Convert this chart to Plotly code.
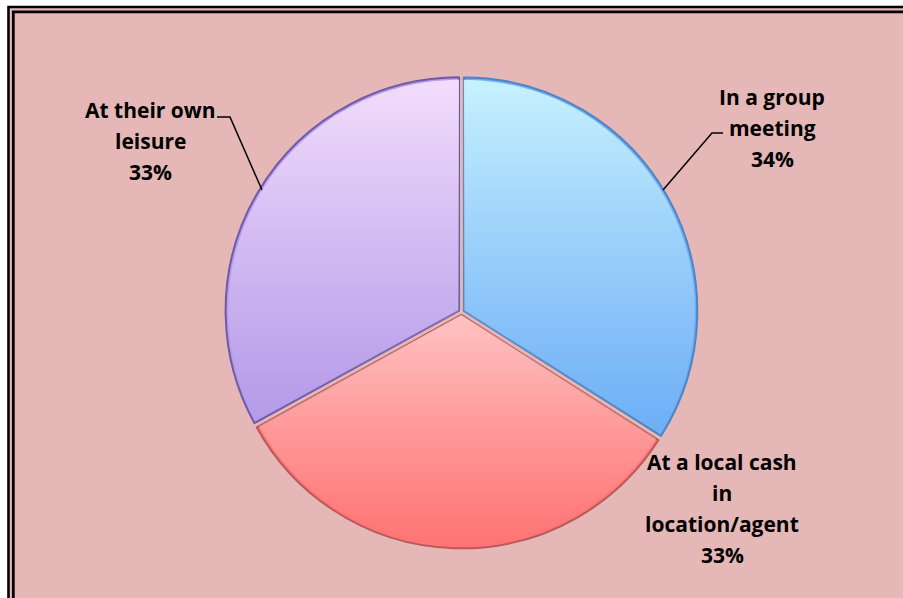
import math
import plotly.graph_objects as go

# Where respondents would prefer to do it
categories = ["In a group meeting", "At a local cash in location/agent", "At their own leisure"]
label_lines = [["In a group", "meeting"], ["At a local cash", "in", "location/agent"], ["At their own", "leisure"]]
values = [34, 33, 33]

# base (lower) colour of each slice and the lighter tint it fades to at its top
slice_colors = ["#6EAFF7", "#FF7474", "#B59BE9"]
tint_colors = [(212, 250, 255), (255, 206, 206), (250, 230, 255)]
rim_colors = ["#4F84C4", "#B85A5A", "#6F5AA8"]

W, H = 903, 598
BG = "#E5B7B7"
DOM_X = [0.2, 0.822]
DOM_Y = [0.083, 0.873]
PULL = 0.012


def px(x):
    return x / W


def py(y):
    return 1 - y / H


fig = go.Figure()

fig.add_trace(go.Pie(
    labels=categories,
    values=values,
    sort=False,
    direction="clockwise",
    rotation=0,
    pull=[PULL] * len(values),
    marker=dict(colors=slice_colors, line=dict(color=rim_colors, width=2)),
    textinfo="none",
    hoverinfo="label+percent",
    showlegend=False,
    domain=dict(x=DOM_X, y=DOM_Y),
))

shapes = []
# frame: pink panel with a double black rule along the top and left
shapes.append(dict(type="rect", xref="paper", yref="paper",
                   x0=px(7), x1=1, y0=py(7), y1=0,
                   fillcolor=BG, line=dict(width=0), layer="below"))
for off, wdt in ((8.5, 2.5), (13.3, 2.8)):
    top = off - 1.5
    shapes.append(dict(type="path", xref="paper", yref="paper",
                       path=f"M {px(off)},0 L {px(off)},{py(top)} L 1,{py(top)}",
                       line=dict(color="black", width=wdt), layer="below"))


# vertical sheen on each slice: translucent horizontal strips clipped to the slice
def clip_y(poly, yc, keep_above):
    out = []
    n = len(poly)
    for i in range(n):
        a, b = poly[i], poly[(i + 1) % n]
        ina = a[1] >= yc if keep_above else a[1] <= yc
        inb = b[1] >= yc if keep_above else b[1] <= yc
        if ina:
            out.append(a)
        if ina != inb:
            t = (yc - a[1]) / (b[1] - a[1])
            out.append((a[0] + t * (b[0] - a[0]), yc))
    return out


cx = W * (DOM_X[0] + DOM_X[1]) / 2
cy = H * (1 - (DOM_Y[0] + DOM_Y[1]) / 2)
radius = min(W * (DOM_X[1] - DOM_X[0]), H * (DOM_Y[1] - DOM_Y[0])) / (2 + 2 * PULL)

total = sum(values)
start = 0.0
for v, tint in zip(values, tint_colors):
    a0 = start
    a1 = start + 2 * math.pi * v / total
    start = a1
    mid = (a0 + a1) / 2
    ox = cx + PULL * radius * math.sin(mid)
    oy = cy - PULL * radius * math.cos(mid)
    rr = radius - 2.5
    steps = max(8, int((a1 - a0) / math.radians(1)))
    poly = [(ox, oy)] + [(ox + rr * math.sin(a0 + (a1 - a0) * k / steps),
                          oy - rr * math.cos(a0 + (a1 - a0) * k / steps)) for k in range(steps + 1)]
    ys = [p[1] for p in poly]
    ytop, ybot = math.floor(min(ys)), math.ceil(max(ys))
    band = 3
    y = ytop
    while y < ybot:
        y2 = min(y + band, ybot)
        piece = clip_y(clip_y(poly, y, True), y2, False)
        if len(piece) >= 3:
            t = ((y + y2) / 2 - ytop) / (ybot - ytop)
            alpha = 0.88 * (1 - t) ** 1.1
            path = "M " + " L ".join(f"{px(p[0])},{py(p[1])}" for p in piece) + " Z"
            shapes.append(dict(type="path", xref="paper", yref="paper", path=path,
                               fillcolor=f"rgba({tint[0]},{tint[1]},{tint[2]},{alpha:.3f})",
                               line=dict(width=0)))
        y = y2

# leader lines
shapes.append(dict(type="path", xref="paper", yref="paper",
                   path=f"M {px(663)},{py(190)} L {px(712)},{py(133)} L {px(723)},{py(133)}",
                   line=dict(color="black", width=1.5)))
shapes.append(dict(type="path", xref="paper", yref="paper",
                   path=f"M {px(217)},{py(117)} L {px(230)},{py(117)} L {px(262)},{py(190)}",
                   line=dict(color="black", width=1.5)))

label_pos = [(772, 97), (722, 462), (150, 110)]
line_gap = 31

annotations = []
for lines, v, (lx, ly) in zip(label_lines, values, label_pos):
    texts = lines + [f"{round(100 * v / total)}%"]
    for i, t in enumerate(texts):
        annotations.append(dict(
            x=px(lx), y=py(ly + i * line_gap), xref="paper", yref="paper",
            text=f"<b>{t}</b>", showarrow=False, xanchor="center", yanchor="middle",
            font=dict(family="Open Sans", size=21, color="black"),
        ))

fig.update_layout(
    width=W, height=H,
    margin=dict(l=0, r=0, t=0, b=0),
    paper_bgcolor="white",
    plot_bgcolor="white",
    shapes=shapes,
    annotations=annotations,
)

fig.write_html("out.html")
